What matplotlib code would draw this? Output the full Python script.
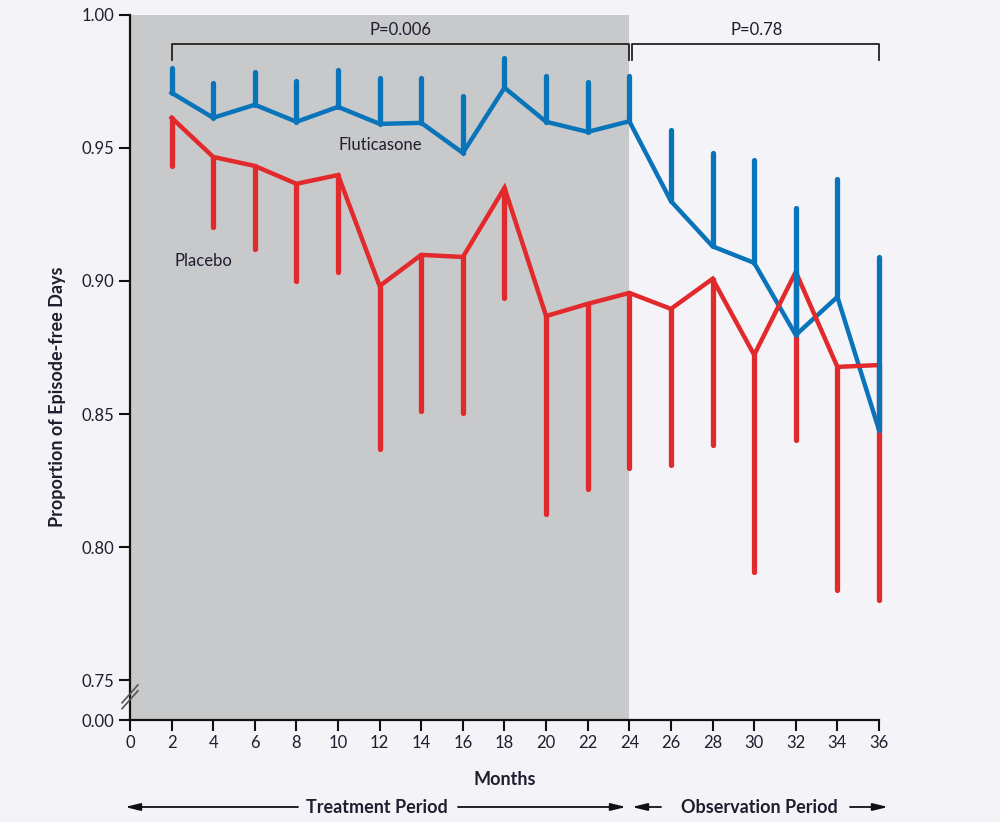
import matplotlib
matplotlib.use('Agg')
import matplotlib.pyplot as plt

plt.rcParams['font.family'] = ['Lato', 'DejaVu Sans']

# ----------------------------------------------------------------------
# data
# ----------------------------------------------------------------------
months = [2, 4, 6, 8, 10, 12, 14, 16, 18, 20, 22, 24, 26, 28, 30, 32, 34, 36]

fluticasone = [0.9707, 0.9613, 0.9662, 0.9598, 0.9654, 0.9590, 0.9594, 0.9481, 0.9726,
               0.9598, 0.9560, 0.9600, 0.9300, 0.9130, 0.9068, 0.8797, 0.8940, 0.8440]
fluticasone_upper = [0.9800, 0.9744, 0.9786, 0.9752, 0.9793, 0.9763, 0.9763, 0.9695, 0.9838,
                     0.9770, 0.9748, 0.9770, 0.9568, 0.9480, 0.9455, 0.9274, 0.9383, 0.9090]

placebo = [0.9613, 0.9466, 0.9432, 0.9365, 0.9398, 0.8981, 0.9098, 0.9090, 0.9350,
           0.8868, 0.8914, 0.8955, 0.8895, 0.9008, 0.8722, 0.9034, 0.8677, 0.8684]
placebo_lower = [0.9432, 0.9203, 0.9120, 0.9000, 0.9034, 0.8368, 0.8511, 0.8504, 0.8936,
                 0.8124, 0.8218, 0.8297, 0.8308, 0.8383, 0.7906, 0.8402, 0.7838, 0.7800]

y_ticks = [0.735, 0.75, 0.80, 0.85, 0.90, 0.95, 1.00]
y_ticklabels = ['0.00', '0.75', '0.80', '0.85', '0.90', '0.95', '1.00']
x_ticks = list(range(0, 37, 2))

blue = '#0a74bb'
red = '#e2292b'
bg = '#f4f3f7'
shade = '#c8c9cb'
ink = '#1e1e2e'

fig = plt.figure(figsize=(10, 8.22), dpi=100, facecolor=bg)
ax = fig.add_axes([0.13, 0.124, 0.749, 0.858])
ax.set_facecolor(bg)

# treatment period shading
ax.axvspan(0, 24, color=shade, lw=0, zorder=0)

# lines and one-sided error bars
ax.plot(months, fluticasone, color=blue, lw=3.2, solid_joinstyle='miter', zorder=3, clip_on=False)
ax.plot(months, placebo, color=red, lw=3.2, solid_joinstyle='miter', zorder=3, clip_on=False)
vr = ax.vlines(months, placebo_lower, placebo, color=red, lw=3.8, zorder=4, clip_on=False)
vr.set_capstyle('round')
vb = ax.vlines(months, fluticasone, fluticasone_upper, color=blue, lw=3.8, zorder=5, clip_on=False)
vb.set_capstyle('round')

ax.text(10.0, 0.9512, 'Fluticasone', fontsize=12, color=ink, va='center', ha='left', zorder=6)
ax.text(2.15, 0.9075, 'Placebo', fontsize=12, color=ink, va='center', ha='left', zorder=6)

# P-value brackets
ax.plot([2, 2, 24, 24], [0.9831, 0.9891, 0.9891, 0.9831], color='#222222', lw=1.3, zorder=6)
ax.plot([24.15, 24.15, 36, 36], [0.9831, 0.9891, 0.9891, 0.9831], color='#222222', lw=1.3,
        zorder=6, clip_on=False)
ax.text(13, 0.9942, 'P=0.006', fontsize=12, color=ink, ha='center', va='center')
ax.text(30.1, 0.9942, 'P=0.78', fontsize=12, color=ink, ha='center', va='center')

# axes
ax.set_xlim(0, 36)
ax.set_ylim(0.735, 1.0)
ax.set_xticks(x_ticks)
ax.set_yticks(y_ticks)
ax.set_yticklabels(y_ticklabels)
ax.tick_params(direction='out', length=8, width=1.5, color='#111111',
               labelsize=12, labelcolor=ink, pad=3)
for side in ['top', 'right']:
    ax.spines[side].set_visible(False)
for side in ['left', 'bottom']:
    ax.spines[side].set_linewidth(1.6)
    ax.spines[side].set_color('#111111')

# axis break marks
for dy in [0.0, 0.0022]:
    ax.plot([-0.38, 0.38], [0.7393 + dy, 0.7460 + dy], color='#555555', lw=1.2,
            clip_on=False, zorder=7)

ax.set_xlabel('Months', fontsize=13, fontweight='bold', color=ink, labelpad=14)
fig.text(0.058, 0.517, 'Proportion of Episode-free Days', rotation=90, fontsize=13,
         fontweight='bold', color=ink, ha='center', va='center')

# period arrows at the bottom
y_arr = 1 - 807 / 822
arrow = dict(arrowstyle='-|>,head_length=0.9,head_width=0.22', color='#111111', lw=1.3,
             shrinkA=0, shrinkB=0)
fig.text(0.377, y_arr, 'Treatment Period', fontsize=13, fontweight='bold', color=ink,
         ha='center', va='center')
fig.text(0.759, y_arr, 'Observation Period', fontsize=13, fontweight='bold', color=ink,
         ha='center', va='center')
for x0, x1 in [(0.298, 0.125), (0.458, 0.626), (0.661, 0.632), (0.850, 0.888)]:
    ax.annotate('', xy=(x1, y_arr), xytext=(x0, y_arr), xycoords='figure fraction',
                textcoords='figure fraction', arrowprops=arrow)

fig.savefig('out.png', dpi=100, facecolor=bg)
